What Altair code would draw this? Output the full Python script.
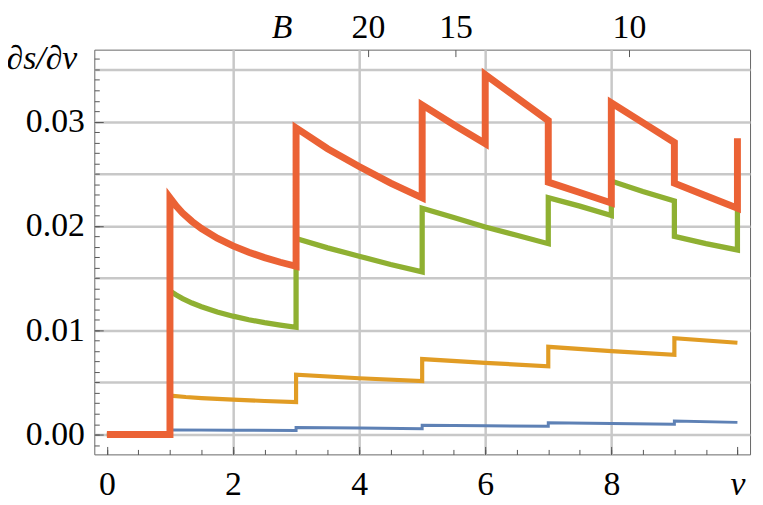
import altair as alt
import pandas as pd

# ---- data (x = nu, y = ds/dnu) ----
blue_x = [0, 1, 1, 2, 3, 3, 4, 5, 5, 6, 7, 7, 8, 9, 9, 10]
blue_y = [0, 0, 0.00045, 0.00042, 0.00038, 0.00067, 0.00062, 0.00057, 0.00089,
          0.00084, 0.00079, 0.00114, 0.00106, 0.00098, 0.00130, 0.00117]

orange_x = [0, 1, 1, 1.25, 1.5, 2, 2.5, 3, 3, 4, 5, 5, 6, 7, 7, 8, 9, 9, 10]
orange_y = [0, 0, 0.00374, 0.00360, 0.00350, 0.00335, 0.00322, 0.00311, 0.00574,
            0.00540, 0.00512, 0.00724, 0.00688, 0.00654, 0.00841, 0.00800,
            0.00765, 0.00924, 0.00880]

green_x = [0, 1, 1, 1.1, 1.2, 1.35, 1.5, 1.75, 2, 2.25, 2.5, 2.75, 3, 3, 3.5, 4,
           4.5, 5, 5, 5.5, 6, 6.5, 7, 7, 7.5, 8, 8, 8.5, 9, 9, 9.5, 10, 10]
green_y = [0, 0, 0.01376, 0.01338, 0.01304, 0.01261, 0.01225, 0.01175, 0.01135,
           0.01101, 0.01073, 0.01049, 0.01028, 0.0188, 0.0179, 0.0171, 0.0163,
           0.0156, 0.0217, 0.0208, 0.0199, 0.0191, 0.0183, 0.0227, 0.0219, 0.0210,
           0.0243, 0.0233, 0.0224, 0.0190, 0.0183, 0.0177, 0.0220]

red_x = [0, 1, 1, 1.1, 1.2, 1.35, 1.5, 1.75, 2, 2.25, 2.5, 2.75, 3, 3, 3.5, 4,
         4.5, 5, 5, 5.5, 6, 6, 6.5, 7, 7, 7.5, 8, 8, 8.5, 9, 9, 9.5, 10, 10]
red_y = [0, 0, 0.0227, 0.02190, 0.02124, 0.02043, 0.01975, 0.01883, 0.01809,
         0.01748, 0.01696, 0.01652, 0.01613, 0.0294, 0.0274, 0.0257, 0.0241,
         0.0227, 0.0316, 0.0297, 0.0279, 0.0345, 0.0323, 0.0301, 0.0242, 0.0232,
         0.0222, 0.0318, 0.0299, 0.0280, 0.0241, 0.0229, 0.0217, 0.0284]

# ---- axis ticks / labels ----
x_major = [0, 2, 4, 6, 8, 10]
x_minor = [i * 0.5 for i in range(0, 21)]
x_grid = [2, 4, 6, 8]
y_major = [0.0, 0.01, 0.02, 0.03]
y_minor = [round(-0.001 + 0.001 * i, 3) for i in range(0, 38)]
y_grid = [round(0.005 * i, 3) for i in range(0, 8)]
top_pos = [2.77, 4.14, 5.53, 8.28]
top_lab = ["B", "20", "15", "10"]

FONT = "Times New Roman, Liberation Serif, serif"
FS = 34
TICK = "#555555"
GRID = "#c8c8c8"

xs = alt.Scale(domain=[-0.2, 10.2], nice=False, zero=False)
ys = alt.Scale(domain=[-0.0019, 0.0369], nice=False, zero=False)

top_expr = "''"
for p, l in reversed(list(zip(top_pos, top_lab))):
    top_expr = f"abs(datum.value - {p}) < 0.01 ? '{l}' : ({top_expr})"

common = dict(labelFlush=False, labelOverlap=False, labelBound=False, title=None)

ax_x_grid = alt.Axis(orient="bottom", values=x_grid, grid=True, gridColor=GRID,
                     gridWidth=2.5, ticks=False, labels=False, domain=False, **common)
ax_y_grid = alt.Axis(orient="left", values=y_grid, grid=True, gridColor=GRID,
                     gridWidth=2.5, ticks=False, labels=False, domain=False,
                     labelFlush=False, labelOverlap=False,
                     title="∂s/∂ν", titleAngle=0, titleAlign="left",
                     titleBaseline="alphabetic", titleX=-89, titleY=19,
                     titleFont=FONT, titleFontSize=FS, titleFontStyle="italic",
                     titleFontWeight="normal", titleColor="black")
ax_x_minor = alt.Axis(orient="bottom", values=x_minor, grid=False, ticks=True,
                      tickSize=5, tickColor=TICK, tickWidth=1, labels=False,
                      domain=False, offset=-5, **common)
ax_y_minor = alt.Axis(orient="left", values=y_minor, grid=False, ticks=True,
                      tickSize=5, tickColor=TICK, tickWidth=1, labels=False,
                      domain=False, offset=-5, **common)
ax_x_major = alt.Axis(orient="bottom", values=x_major, grid=False, ticks=True,
                      tickSize=8, tickColor=TICK, tickWidth=1, domain=False,
                      offset=-8, format="d",
                      labelExpr="datum.value == 10 ? 'ν' : datum.label",
                      labelFont=FONT, labelFontSize=FS, labelColor="black",
                      labelPadding=13,
                      labelFontStyle={"condition": {"test": "datum.value == 10", "value": "italic"},
                                      "value": "normal"},
                      **common)
ax_y_major = alt.Axis(orient="left", values=y_major, grid=False, ticks=True,
                      tickSize=9, tickColor=TICK, tickWidth=1, domain=False,
                      offset=-9, format=".2f", labelFont=FONT, labelFontSize=FS,
                      labelColor="black", labelPadding=10, **common)
ax_top = alt.Axis(orient="top", values=top_pos, grid=False, ticks=True,
                  tickSize=7, tickColor=TICK, tickWidth=1, domain=False,
                  offset=-7, labelExpr=top_expr, labelFont=FONT, labelFontSize=FS,
                  labelColor="black", labelPadding=5,
                  tickOpacity={"condition": {"test": "datum.value < 3", "value": 0},
                               "value": 1},
                  labelFontStyle={"condition": {"test": "datum.value < 3", "value": "italic"},
                                  "value": "normal"},
                  **common)


def frame(xv, yv):
    return pd.DataFrame({"x": xv, "y": yv, "i": list(range(len(xv)))})


def line(df, color, w, xaxis, yaxis):
    return alt.Chart(df).mark_line(
        color=color, strokeWidth=w, strokeJoin="miter", strokeCap="butt",
        strokeMiterLimit=10
    ).encode(
        x=alt.X("x:Q", scale=xs, axis=xaxis),
        y=alt.Y("y:Q", scale=ys, axis=yaxis),
        order="i:Q",
    )


blue = line(frame(blue_x, blue_y), "#5E81B5", 3, ax_x_grid, ax_y_grid)
orange = line(frame(orange_x, orange_y), "#E19C24", 4.2, ax_x_minor, ax_y_minor)
green = line(frame(green_x, green_y), "#8FB032", 5.3, ax_x_major, ax_y_major)
red = line(frame(red_x, red_y), "#EB6235", 7, ax_top, None)

chart = alt.layer(blue, orange, green, red).resolve_axis(
    x="independent", y="independent"
).properties(
    width=661, height=408,
    padding={"left": 87, "top": 40, "right": 5, "bottom": 45},
    autosize=alt.AutoSizeParams(type="none"),
    background="white",
).configure_view(stroke="#666666", strokeWidth=1)

chart.save("out.html", embed_options={"renderer": "svg", "actions": False})
